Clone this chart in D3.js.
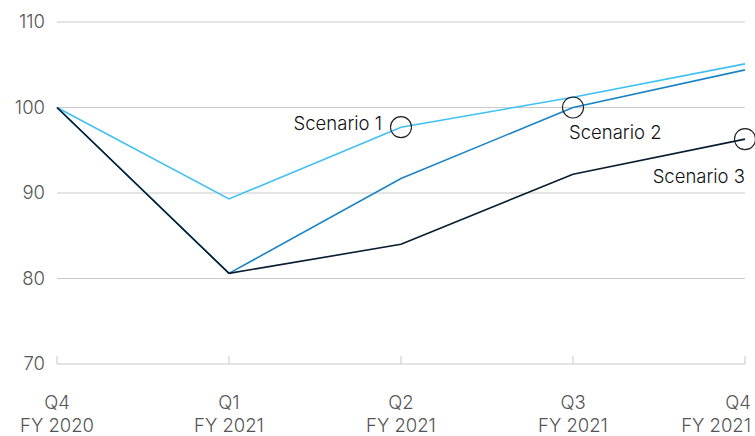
<!DOCTYPE html>
<html><head><meta charset="utf-8">
<script src="https://cdn.jsdelivr.net/npm/d3@7"></script>
<style>body{margin:0;background:#fff}svg{display:block}text{font-family:Inter,"Liberation Sans",sans-serif;font-weight:300}</style>
</head><body><svg id="c" width="755" height="436"></svg>
<script>
const quarters = ["Q4", "Q1", "Q2", "Q3", "Q4"];
const years = ["FY 2020", "FY 2021", "FY 2021", "FY 2021", "FY 2021"];
const yTicks = [70, 80, 90, 100, 110];
const scenario1 = [100, 89.3, 97.7, 101.2, 105.1];
const scenario2 = [100, 80.6, 91.7, 100.0, 104.4];
const scenario3 = [100, 80.6, 84.0, 92.2, 96.3];
const seriesNames = ["Scenario 1", "Scenario 2", "Scenario 3"];
const colors = ["#3fc0f3", "#1a83c6", "#061d2f"];
const markerIdx = [2, 3, 4];

const svg = d3.select("#c");
const x = d3.scalePoint().domain(d3.range(quarters.length)).range([57, 745]);
const y = d3.scaleLinear().domain([70, 110]).range([364, 22]);

svg.append("g").selectAll("line").data(yTicks.slice(1)).join("line")
  .attr("x1", 57).attr("x2", 745).attr("y1", d => y(d)).attr("y2", d => y(d))
  .attr("stroke", "#c9c9c9").attr("stroke-width", 1);
svg.append("line").attr("x1", 57).attr("x2", 745).attr("y1", y(70)).attr("y2", y(70))
  .attr("stroke", "#c9c9c9");
svg.append("g").selectAll("line").data(d3.range(quarters.length)).join("line")
  .attr("x1", d => x(d)).attr("x2", d => x(d)).attr("y1", y(70) - 8).attr("y2", y(70))
  .attr("stroke", "#c9c9c9");

svg.append("g").selectAll("text").data(yTicks).join("text")
  .attr("x", 45).attr("y", d => y(d)).attr("dy", "0.35em").attr("text-anchor", "end")
  .attr("font-size", 18.5).attr("fill", "#555").text(d => d);

const xl = svg.append("g").selectAll("g").data(d3.range(quarters.length)).join("g");
const anchorFor = i => i === quarters.length - 1 ? "end" : "middle";
const xFor = i => i === quarters.length - 1 ? 751 : x(i);
xl.append("text").attr("x", xFor).attr("y", 409).attr("text-anchor", anchorFor)
  .attr("font-size", 18.5).attr("fill", "#555").text(i => quarters[i]);
xl.append("text").attr("x", xFor).attr("y", 432).attr("text-anchor", anchorFor)
  .attr("font-size", 18.5).attr("fill", "#555").text(i => years[i]);

const all = [scenario1, scenario2, scenario3];
const line = d3.line().x((d, i) => x(i)).y(d => y(d));
[0, 1, 2].forEach(k => {
  svg.append("path").attr("d", line(all[k])).attr("fill", "none")
    .attr("stroke", colors[k]).attr("stroke-width", 1.6);
});

all.forEach((s, k) => {
  svg.append("circle").attr("cx", x(markerIdx[k])).attr("cy", y(s[markerIdx[k]]))
    .attr("r", 10.5).attr("fill", "none").attr("stroke", "#222").attr("stroke-width", 1.1);
});

const lab = [
  {k: 0, dx: -19, dy: -4, anchor: "end"},
  {k: 1, dx: -4, dy: 25, anchor: "start"},
  {k: 2, dx: 0, dy: 37, anchor: "end"}
];
lab.forEach(l => {
  const i = markerIdx[l.k];
  svg.append("text").attr("x", x(i) + l.dx).attr("y", y(all[l.k][i]) + l.dy)
    .attr("dy", "0.35em").attr("text-anchor", l.anchor)
    .attr("font-size", 18.5).attr("fill", "#111").text(seriesNames[l.k]);
});
</script></body></html>
